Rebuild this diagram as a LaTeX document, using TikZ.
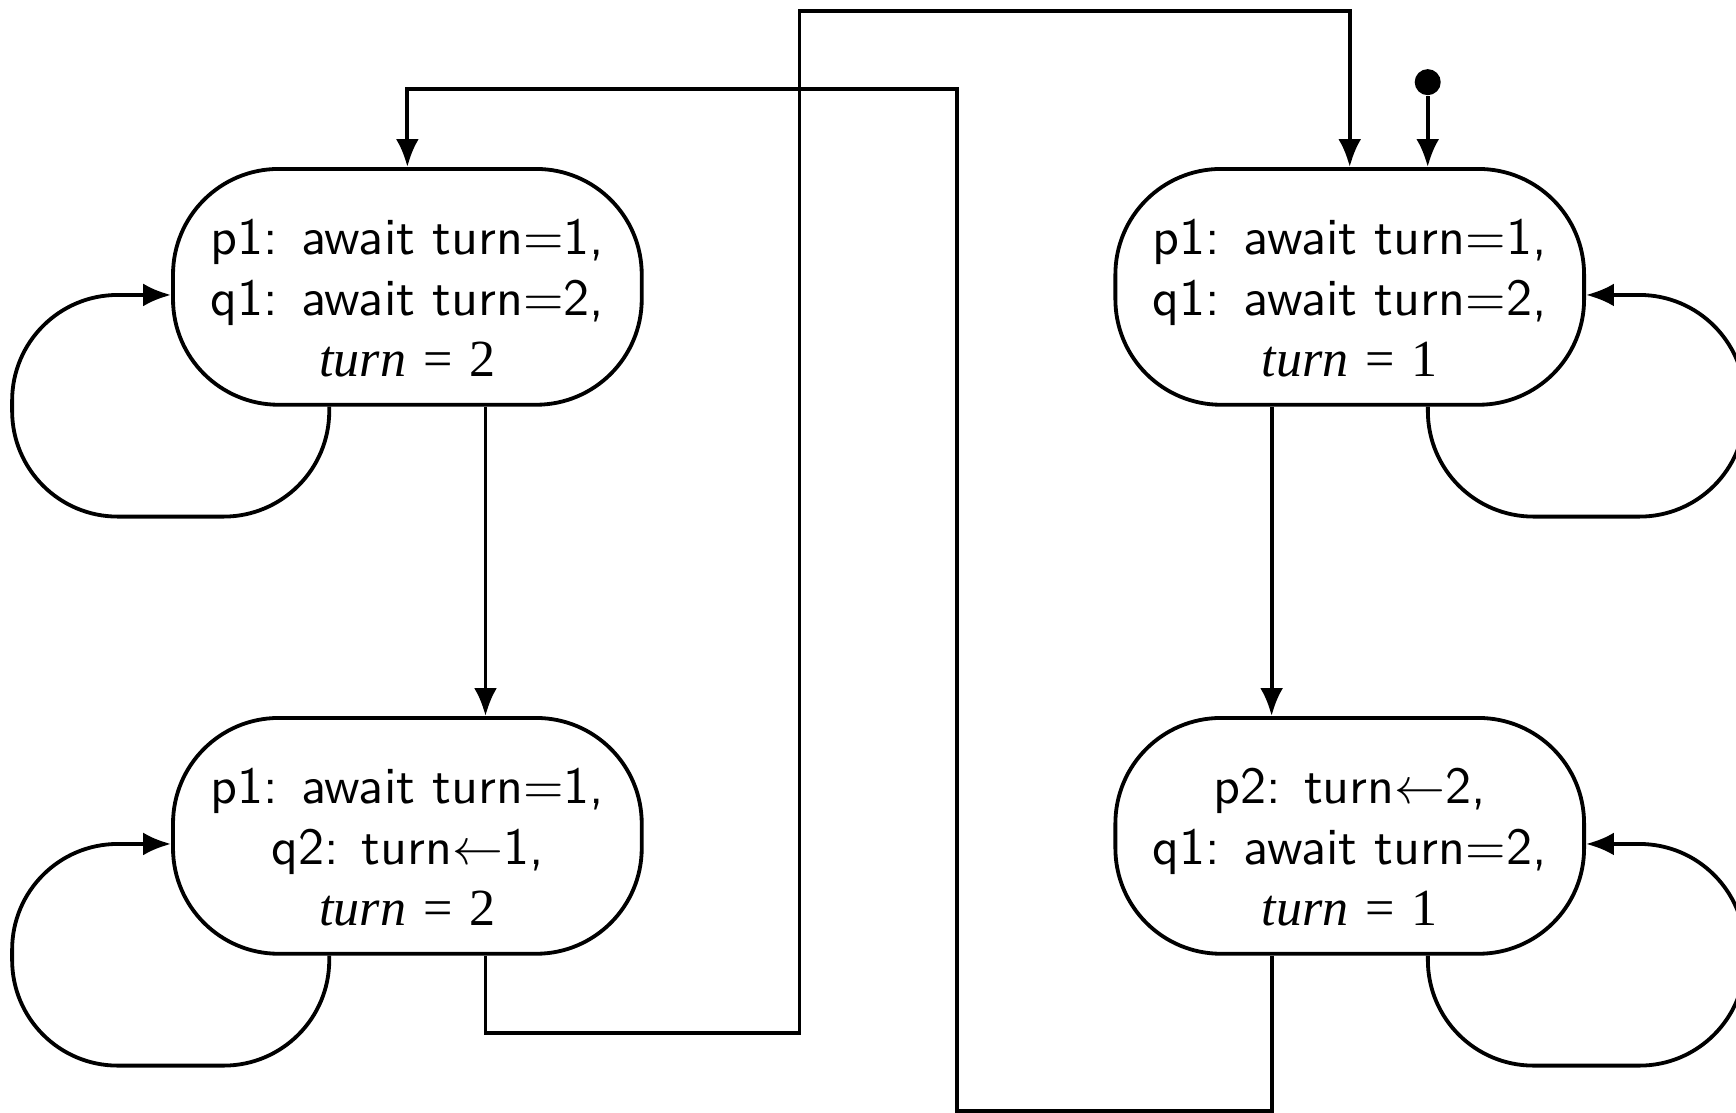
\documentclass[tikz,border=0pt]{standalone}
\usepackage{fontspec}
\newfontfamily\tmfont{Liberation Serif}
\usetikzlibrary{arrows.meta}
\newcommand{\statetext}[1]{\raisebox{-3.2pt}[\height][\depth]{\begin{tabular}{@{}c@{}}#1\end{tabular}}}
\newcommand{\turnval}[1]{{\tmfont\textit{turn}\/\hspace{3.3pt}=\hspace{3.3pt}#1}}
\tikzset{
  state/.style={draw, line width=0.75pt, rounded corners=0.73cm, minimum width=3.24cm,
    minimum height=1.63cm, inner sep=0pt, font=\sffamily\fontsize{10.25pt}{12pt}\selectfont},
  edge/.style={line width=0.75pt, -{Latex[length=5.5pt,width=4.5pt]}},
  selfloop/.style={edge, rounded corners=0.73cm}
}

\begin{document}
\begin{tikzpicture}
    \useasboundingbox (0,0) rectangle (12,7.691);
    % the four states
    \node[state] (s1) at (2.816,5.708) {\statetext{p1: await turn=1,\\ q1: await turn=2,\\ \turnval{2}}};
    \node[state] (s2) at (2.816,1.913) {\statetext{p1: await turn=1,\\ q2: turn$\leftarrow$1,\\ \turnval{2}}};
    \node[state] (s3) at (9.330,5.708) {\statetext{p1: await turn=1,\\ q1: await turn=2,\\ \turnval{1}}};
    \node[state] (s4) at (9.330,1.913) {\statetext{p2: turn$\leftarrow$2,\\ q1: await turn=2,\\ \turnval{1}}};
    % initial state
    \node[circle, fill, inner sep=0pt, minimum size=0.18cm] (init) at (9.869,7.123) {};
    \draw[edge] (init) -- (init |- s3.north);
    % straight down
    \draw[edge] ([xshift=0.54cm]s1.south) -- ([xshift=0.54cm]s2.north);
    \draw[edge] ([xshift=-0.54cm]s3.south) -- ([xshift=-0.54cm]s4.north);
    % crossing connectors
    \draw[edge] ([xshift=0.54cm]s2.south) |- (5.526,0.551) -- (5.526,7.616) -| (s3.north);
    \draw[edge] ([xshift=-0.54cm]s4.south) |- (6.615,0.013) -- (6.615,7.074) -| (s1.north);
    % self loops
    \draw[selfloop] ([xshift=-0.54cm]s1.south) -- ++(0,-0.76) -| ([xshift=-1.099cm,yshift=-0.056cm]s1.west) -- ([yshift=-0.056cm]s1.west);
    \draw[selfloop] ([xshift=-0.54cm]s2.south) -- ++(0,-0.76) -| ([xshift=-1.099cm,yshift=-0.056cm]s2.west) -- ([yshift=-0.056cm]s2.west);
    \draw[selfloop] ([xshift=0.54cm]s3.south) -- ++(0,-0.76) -| ([xshift=1.099cm,yshift=-0.056cm]s3.east) -- ([yshift=-0.056cm]s3.east);
    \draw[selfloop] ([xshift=0.54cm]s4.south) -- ++(0,-0.76) -| ([xshift=1.099cm,yshift=-0.056cm]s4.east) -- ([yshift=-0.056cm]s4.east);
\end{tikzpicture}
\end{document}
